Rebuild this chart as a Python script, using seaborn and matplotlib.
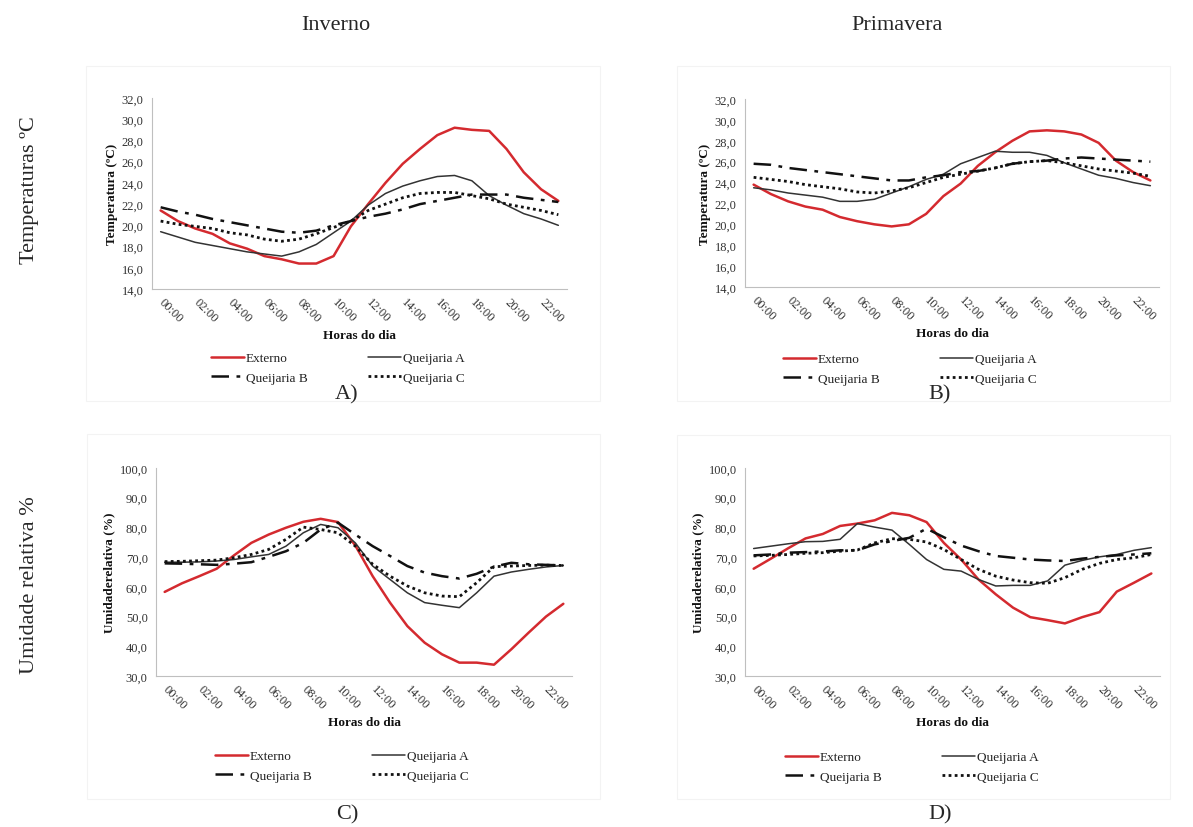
import numpy as np
import pandas as pd
import matplotlib
matplotlib.use("Agg")
import matplotlib.pyplot as plt
from matplotlib.ticker import FuncFormatter, FixedLocator
from matplotlib.patches import Rectangle
import seaborn as sns

# ---------------- data ----------------
hours = [f"{h:02d}:00" for h in range(24)]
series_names = ["Externo", "Queijaria A", "Queijaria B", "Queijaria C"]

# Temperatura - Inverno (A)
tA_ext = [21.4, 20.4, 19.7, 19.2, 18.3, 17.8, 17.1, 16.8, 16.4, 16.4, 17.1, 19.9,
          22.0, 24.0, 25.8, 27.2, 28.5, 29.2, 29.0, 28.9, 27.2, 25.0, 23.4, 22.3]
tA_qa = [19.4, 18.9, 18.4, 18.1, 17.8, 17.5, 17.3, 17.1, 17.5, 18.2, 19.3, 20.4,
         21.9, 23.0, 23.7, 24.2, 24.6, 24.7, 24.2, 22.8, 21.9, 21.1, 20.6, 20.0]
tA_qb = [21.7, 21.3, 21.0, 20.6, 20.3, 20.0, 19.7, 19.4, 19.3, 19.5, 20.0, 20.4,
         20.8, 21.1, 21.5, 22.0, 22.3, 22.6, 22.9, 22.9, 22.9, 22.6, 22.4, 22.2]
tA_qc = [20.4, 20.1, 19.9, 19.7, 19.3, 19.1, 18.7, 18.5, 18.7, 19.2, 19.8, 20.4,
         21.4, 22.0, 22.6, 23.0, 23.1, 23.1, 22.8, 22.5, 22.0, 21.7, 21.4, 21.0]

# Temperatura - Primavera (B)
tB_ext = [23.8, 22.9, 22.2, 21.7, 21.4, 20.7, 20.3, 20.0, 19.8, 20.0, 21.0, 22.7,
          23.9, 25.6, 26.9, 28.0, 28.9, 29.0, 28.9, 28.6, 27.8, 26.1, 25.0, 24.2]
tB_qa = [23.5, 23.3, 23.0, 22.8, 22.6, 22.2, 22.2, 22.4, 23.0, 23.6, 24.3, 24.8,
         25.8, 26.4, 27.0, 26.9, 26.9, 26.6, 25.9, 25.3, 24.7, 24.4, 24.0, 23.7]
tB_qb = [25.8, 25.7, 25.4, 25.2, 25.0, 24.8, 24.6, 24.4, 24.2, 24.2, 24.5, 24.7,
         25.0, 25.1, 25.4, 25.8, 26.0, 26.1, 26.3, 26.4, 26.3, 26.2, 26.1, 26.0]
tB_qc = [24.5, 24.3, 24.1, 23.8, 23.6, 23.4, 23.1, 23.0, 23.2, 23.5, 24.0, 24.5,
         24.8, 25.1, 25.4, 25.8, 26.0, 26.1, 25.9, 25.6, 25.3, 25.1, 24.9, 24.6]

# Umidade relativa - Inverno (C)
uC_ext = [58.3, 61.2, 63.6, 66.1, 70.6, 74.8, 77.6, 79.9, 81.9, 82.9, 81.8, 73.9,
          63.6, 54.7, 46.8, 41.2, 37.3, 34.5, 34.5, 33.8, 39.0, 44.6, 50.0, 54.3]
uC_qa = [68.3, 68.3, 68.4, 68.7, 69.2, 70.1, 70.9, 73.7, 78.2, 81.0, 79.9, 74.8,
         67.0, 62.5, 58.0, 54.7, 53.8, 53.0, 58.0, 63.6, 65.0, 65.9, 66.7, 67.2]
uC_qb = [67.9, 67.8, 67.6, 67.4, 67.8, 68.3, 70.1, 72.0, 74.8, 79.3, 81.6, 77.6,
         73.7, 70.4, 67.0, 64.8, 63.6, 62.8, 64.4, 66.8, 68.1, 67.6, 67.4, 67.2]
uC_qc = [68.5, 68.6, 68.8, 69.0, 69.8, 70.9, 72.6, 76.0, 80.1, 79.3, 78.2, 73.7,
         67.6, 63.6, 60.3, 58.0, 56.9, 56.7, 61.4, 66.8, 67.0, 67.2, 67.3, 67.2]

# Umidade relativa - Primavera (D)
uD_ext = [66.1, 69.5, 73.0, 76.3, 77.8, 80.5, 81.3, 82.4, 84.9, 84.1, 81.8, 74.8,
          69.2, 62.5, 57.5, 53.0, 49.8, 48.8, 47.7, 49.8, 51.5, 58.4, 61.4, 64.5]
uD_qa = [72.9, 73.7, 74.5, 75.2, 75.3, 76.0, 81.3, 80.1, 79.1, 74.3, 69.2, 65.9,
         65.3, 62.5, 60.3, 60.5, 60.5, 62.0, 67.3, 68.9, 70.1, 70.9, 72.3, 73.2]
uD_qb = [70.6, 70.9, 71.5, 71.7, 71.9, 72.3, 72.3, 74.3, 75.4, 76.5, 79.6, 76.7,
         73.9, 72.0, 70.4, 69.8, 69.2, 68.9, 68.7, 69.5, 70.1, 70.6, 70.9, 71.3]
uD_qc = [70.4, 70.6, 70.9, 71.3, 71.5, 72.0, 72.4, 74.8, 76.2, 76.0, 75.1, 72.6,
         69.2, 65.9, 63.6, 62.3, 61.4, 61.2, 63.1, 65.9, 67.9, 69.2, 69.8, 70.9]

col_titles = ["Inverno", "Primavera"]
row_titles = ["Temperaturas ºC", "Umidade relativa %"]
panel_labels = ["A)", "B)", "C)", "D)"]
ylabels = ["Temperatura (ºC)", "Umidaderelativa (%)"]
xlabel = "Horas do dia"

panels = [
    [tA_ext, tA_qa, tA_qb, tA_qc],
    [tB_ext, tB_qa, tB_qb, tB_qc],
    [uC_ext, uC_qa, uC_qb, uC_qc],
    [uD_ext, uD_qa, uD_qb, uD_qc],
]

# ---------------- style ----------------
sns.set_theme(style="white")
plt.rcParams["font.family"] = ["Liberation Serif", "DejaVu Serif"]

W, H = 1193, 828
fig = plt.figure(figsize=(W / 100, H / 100), dpi=100)

def fx(px):
    return px / W

def fy(py):
    return 1 - py / H

# axes rects in pixels: left, right, top, bottom
rects = [
    (152, 567, 99, 290),
    (745, 1159, 100, 288),
    (156, 572, 469, 677),
    (745, 1160, 469, 677),
]
boxes = [
    (86, 600, 67, 402),
    (677, 1170, 67, 402),
    (87, 600, 435, 800),
    (677, 1170, 436, 800),
]
legend_centers = [(338, 369), (910, 370), (342, 767), (912, 768)]
label_pos = [(347, 395), (940, 395), (347, 815), (940, 815)]

styles = {
    "Externo": dict(color="#d42a2f", lw=1.8, ls="-"),
    "Queijaria A": dict(color="#333333", lw=1.1, ls="-"),
    "Queijaria B": dict(color="#111111", lw=1.8, ls=(0, (7, 3, 1.5, 3))),
    "Queijaria C": dict(color="#111111", lw=2.0, ls=(0, (1, 1.2))),
}

fmt = FuncFormatter(lambda v, p: f"{v:.1f}".replace(".", ","))

for i, (vals, r, b) in enumerate(zip(panels, rects, boxes)):
    # faint chart-area frame
    fig.patches.append(Rectangle((fx(b[0]), fy(b[3])), fx(b[1] - b[0]), (b[3] - b[2]) / H,
                                 transform=fig.transFigure, fill=False,
                                 edgecolor="#f3f3f3", lw=0.8, zorder=0))
    left, right, top, bottom = r
    ax = fig.add_axes([fx(left), fy(bottom), fx(right - left), (bottom - top) / H])
    df = pd.DataFrame({"pos": np.arange(24)})
    handles = {}
    for name, v in zip(series_names, vals):
        st = styles[name]
        sns.lineplot(x=df["pos"], y=v, ax=ax, color=st["color"], linewidth=st["lw"],
                     linestyle=st["ls"], label=name, legend=False)
        handles[name] = ax.lines[-1]
    ax.set_xlim(-0.5, 23.5)
    if i < 2:
        ax.set_ylim(14, 32)
        ax.set_yticks(np.arange(14, 32.1, 2))
    else:
        ax.set_ylim(30, 100)
        ax.set_yticks(np.arange(30, 100.1, 10))
    ax.yaxis.set_major_formatter(fmt)
    # category boundary ticks
    ax.xaxis.set_major_locator(FixedLocator(np.arange(-0.5, 24, 1)))
    ax.xaxis.set_major_formatter(FuncFormatter(lambda v, p: ""))
    ax.set_xticks(np.arange(0, 24, 2), [hours[h] for h in range(0, 24, 2)], minor=True)
    ax.tick_params(axis="x", which="major", length=4, width=0.7, color="#bfbfbf", direction="out")
    ax.tick_params(axis="x", which="minor", length=0, pad=8, labelsize=9, labelcolor="#333333")
    for lab in ax.get_xticklabels(minor=True):
        lab.set_rotation(-45)
        lab.set_ha("left")
        lab.set_va("center")
        lab.set_rotation_mode("anchor")
    ax.tick_params(axis="y", length=4, width=0.7, color="#bfbfbf", direction="out",
                   labelsize=9, labelcolor="#333333", pad=2)
    for s in ["top", "right"]:
        ax.spines[s].set_visible(False)
    for s in ["left", "bottom"]:
        ax.spines[s].set_color("#bfbfbf")
        ax.spines[s].set_linewidth(0.8)
    ax.set_xlabel(xlabel, fontsize=9.5, fontweight="bold", color="#111111", labelpad=3)
    ax.set_ylabel(ylabels[i // 2], fontsize=9.5, fontweight="bold", color="#111111", labelpad=3)
    ax.grid(False)
    ax.set_facecolor("none")

    order = ["Externo", "Queijaria B", "Queijaria A", "Queijaria C"]
    cx, cy = legend_centers[i]
    fig.legend([handles[n] for n in order], order, loc="center",
               bbox_to_anchor=(fx(cx), fy(cy)), ncol=2, frameon=False,
               fontsize=9.5, handlelength=2.5, handletextpad=0.15,
               columnspacing=4.6, labelspacing=0.55, labelcolor="#222222")

    lx, ly = label_pos[i]
    fig.text(fx(lx), fy(ly), panel_labels[i], fontsize=16, ha="center", va="center")

fig.text(fx(336), fy(25), col_titles[0], fontsize=16, ha="center", va="center")
fig.text(fx(897), fy(25), col_titles[1], fontsize=16, ha="center", va="center")
fig.text(fx(30), fy(190), row_titles[0], fontsize=16, rotation=90, ha="center", va="center")
fig.text(fx(30), fy(585), row_titles[1], fontsize=16, rotation=90, ha="center", va="center")

fig.savefig("out.png", dpi=100, facecolor="white")
